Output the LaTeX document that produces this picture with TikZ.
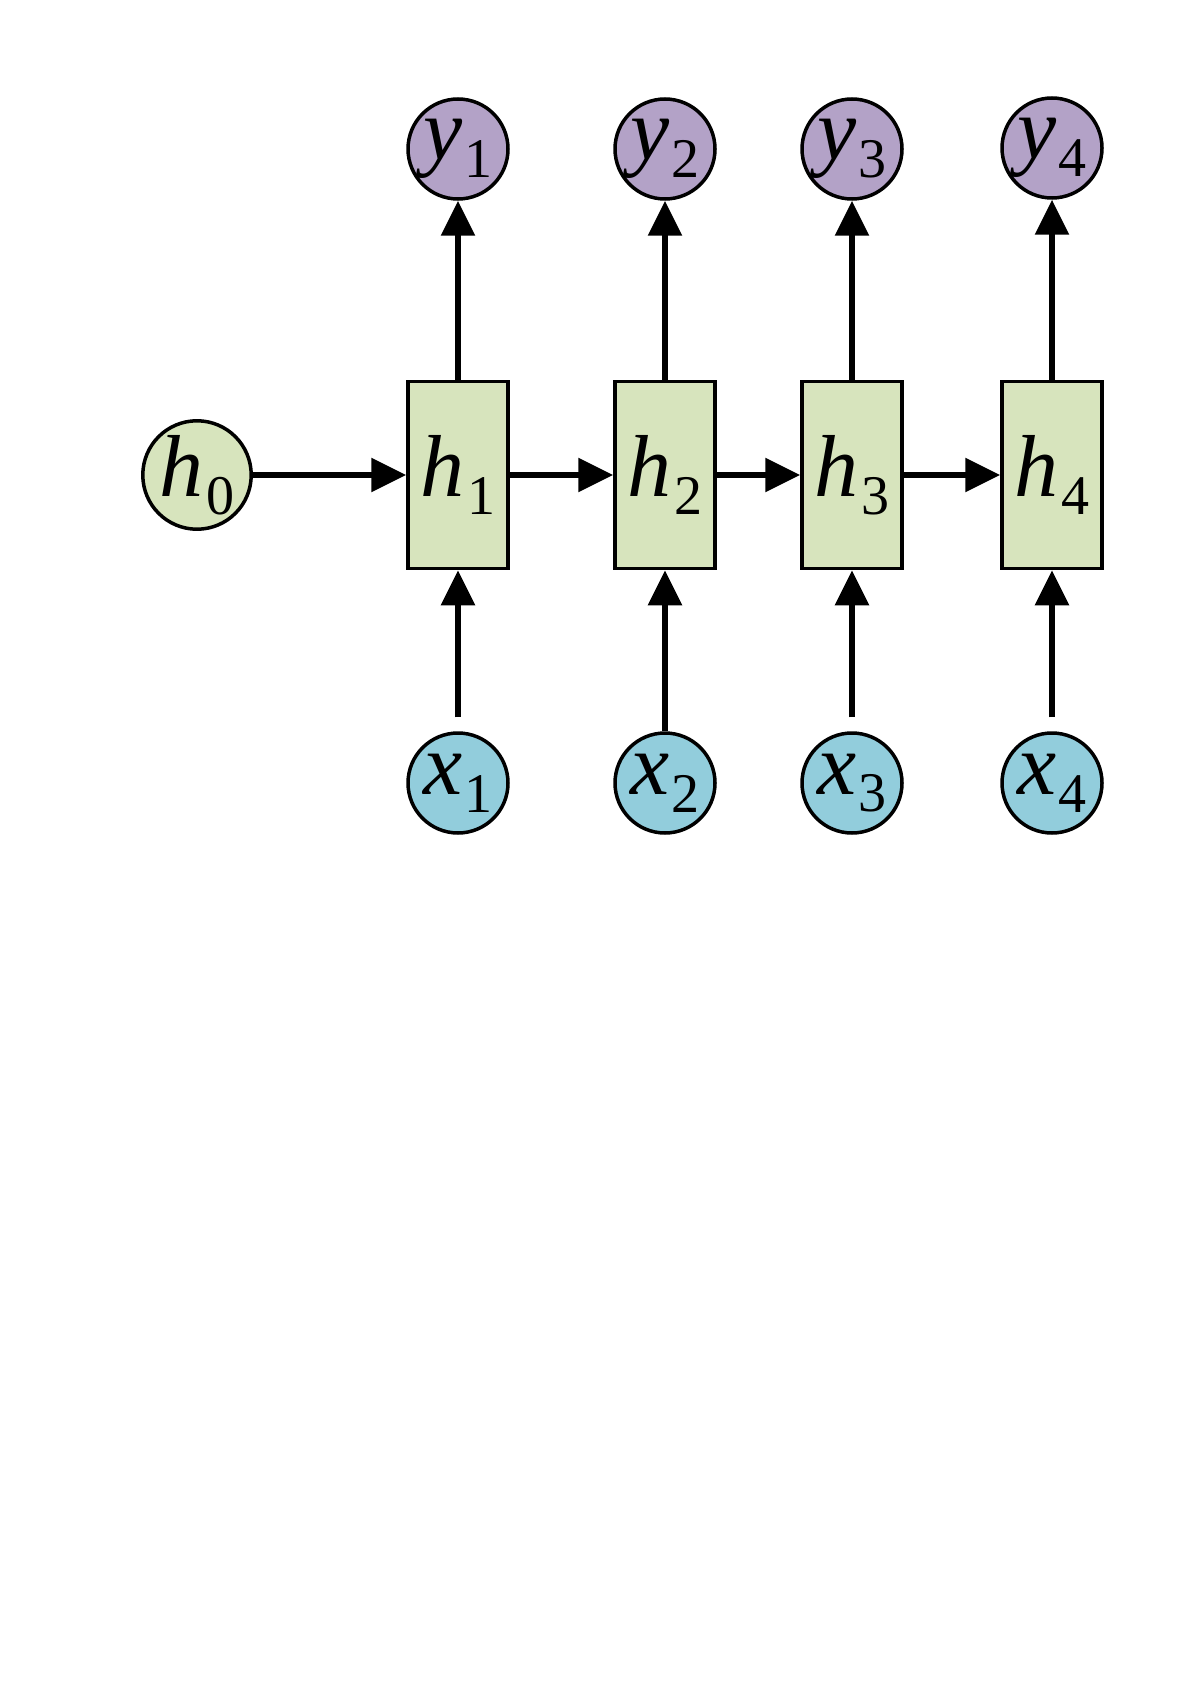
\documentclass[tikz,border=0pt]{standalone}
\usepackage{fontspec}
\setmainfont{Liberation Serif}
\usetikzlibrary{arrows.meta}
\definecolor{ypurple}{HTML}{B3A2C7}
\definecolor{xblue}{HTML}{92CDDC}
\definecolor{hgreen}{HTML}{D7E4BD}
\newcommand{\lbl}[2]{\textit{#1}\kern0.03em\raisebox{-0.2em}{\fontsize{56}{60}\selectfont #2}}
\tikzset{
  basenode/.style = {align=center, inner sep=0pt, text centered, font=\fontsize{88}{96}\selectfont, line width=3.5pt, draw=black},
  cnode/.style = {basenode, circle, minimum size=100pt},
  ynode/.style = {cnode, fill=ypurple},
  xnode/.style = {cnode, fill=xblue},
  hnode/.style = {cnode, fill=hgreen},
  hcell/.style = {basenode, rectangle, fill=hgreen, minimum width=100pt, minimum height=187pt},
  link/.style = {-{Triangle[length=35pt,width=33pt]}, line width=5.5pt},
}

\begin{document}
\begin{tikzpicture}[x=1pt, y=-1pt]
\useasboundingbox (0,0) rectangle (1191,1685);
% hidden states
\node [hnode] (h0) at (197,475) {\lbl{h}{0}};
\node [hcell] (h1) at (458,475) {\lbl{h}{1}};
\node [hcell] (h2) at (665,475) {\lbl{h}{2}};
\node [hcell] (h3) at (852,475) {\lbl{h}{3}};
\node [hcell] (h4) at (1052,475) {\lbl{h}{4}};
% outputs
\node [ynode] (y1) at (458,149) {\lbl{y}{1}};
\node [ynode] (y2) at (665,149) {\lbl{y}{2}};
\node [ynode] (y3) at (852,149) {\lbl{y}{3}};
\node [ynode] (y4) at (1052,148) {\lbl{y}{4}};
% inputs
\node [xnode] (x1) at (458,783) {\lbl{x}{1}};
\node [xnode] (x2) at (665,783) {\lbl{x}{2}};
\node [xnode] (x3) at (852,783) {\lbl{x}{3}};
\node [xnode] (x4) at (1052,783) {\lbl{x}{4}};

\draw[link] (h0) -- (h1);
\draw[link] (h1) -- (h2);
\draw[link] (h2) -- (h3);
\draw[link] (h3) -- (h4);
\draw[link] (h1) -- (y1);
\draw[link] (h2) -- (y2);
\draw[link] (h3) -- (y3);
\draw[link] (h4) -- (y4);
\draw[link, shorten <=14pt] (x1) -- (h1);
\draw[link] (x2) -- (h2);
\draw[link, shorten <=14pt] (x3) -- (h3);
\draw[link, shorten <=14pt] (x4) -- (h4);
\end{tikzpicture}
\end{document}
